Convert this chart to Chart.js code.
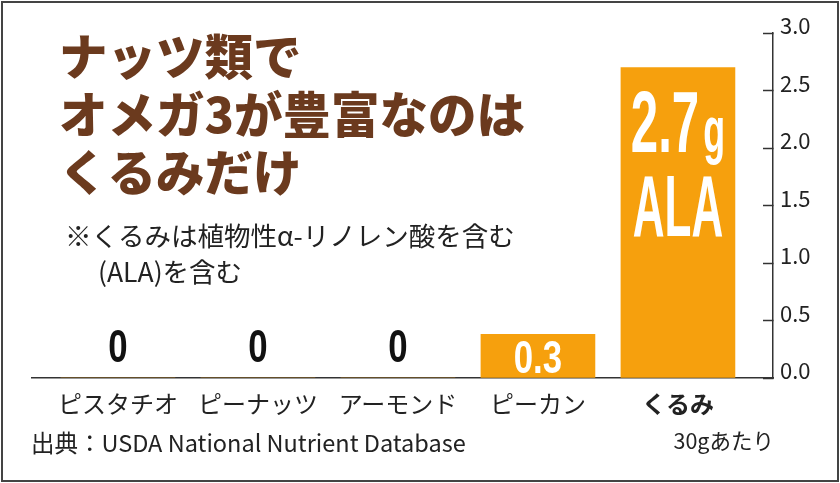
<!DOCTYPE html>
<html><head><meta charset="utf-8">
<script src="https://cdn.jsdelivr.net/npm/chart.js@4"></script>
<style>html,body{margin:0;padding:0;background:#fff}#wrap{width:840px;height:483px;position:relative}</style>
</head><body><div id="wrap"><canvas id="c"></canvas></div>
<script>
// ---- data ----
const categories = ['ピスタチオ', 'ピーナッツ', 'アーモンド', 'ピーカン', 'くるみ'];
const alaValues = [0, 0, 0, 0.38, 2.7];
const valueLabels = [['0'], ['0'], ['0'], ['0.3'], ['2.7g', 'ALA']];
const yTickValues = [0, 0.5, 1.0, 1.5, 2.0, 2.5, 3.0];
const highlightCategory = 'くるみ';
const titleLines = ['ナッツ類で', 'オメガ3が豊富なのは', 'くるみだけ'];
const noteLines = ['※くるみは植物性α-リノレン酸を含む', '(ALA)を含む'];
const sourceText = '出典：USDA National Nutrient Database';
const unitText = '30gあたり';

// ---- styles ----
const JP = '"Noto Sans CJK JP", "Noto Sans", sans-serif';
const NUM = '"Liberation Sans", Arial, sans-serif';
const ORANGE = '#F6A00D';
const BROWN = '#6B3A1E';
const INK = '#222222';

function condText(ctx, text, x, y, size, sx, color, align) {
  ctx.save();
  ctx.translate(x, y);
  ctx.scale(sx, 1);
  ctx.font = 'bold ' + size + 'px ' + NUM;
  ctx.fillStyle = color;
  ctx.textAlign = align || 'center';
  ctx.textBaseline = 'alphabetic';
  ctx.fillText(text, 0, 0);
  ctx.restore();
}
function measure(ctx, text, size) {
  ctx.save(); ctx.font = 'bold ' + size + 'px ' + NUM;
  const w = ctx.measureText(text).width; ctx.restore(); return w;
}

const decorPlugin = {
  id: 'decor',
  afterDraw(chart) {
    const ctx = chart.ctx;
    ctx.save();
    // frame
    ctx.strokeStyle = '#444';
    ctx.lineWidth = 2;
    ctx.strokeRect(2, 2, 836, 479);
    // title
    ctx.fillStyle = BROWN;
    ctx.font = '900 48.5px ' + JP;
    ctx.textAlign = 'left';
    ctx.textBaseline = 'middle';
    titleLines.forEach((t, i) => ctx.fillText(t, 59, 57 + i * 58));
    // note
    ctx.fillStyle = INK;
    ctx.font = '26.5px ' + JP;
    ctx.fillText(noteLines[0], 65, 236);
    ctx.fillText(noteLines[1], 98, 272);
    // source + unit
    ctx.font = '23.5px ' + JP;
    ctx.fillText(sourceText, 31, 443);
    ctx.font = '21.5px ' + JP;
    ctx.textAlign = 'right';
    ctx.fillText(unitText, 774, 441);
    ctx.restore();
  },
  afterDatasetsDraw(chart) {
    const ctx = chart.ctx;
    const meta = chart.getDatasetMeta(0);
    meta.data.forEach((bar, i) => {
      const lines = valueLabels[i];
      const v = alaValues[i];
      const base = bar.base;
      if (v === 0) {
        condText(ctx, lines[0], bar.x, base - 16, 47, 0.74, '#111');
      } else if (lines.length === 1) {
        const mid = (bar.y + base) / 2;
        condText(ctx, lines[0], bar.x, mid + 17, 47, 0.74, '#fff');
      } else {
        const big = 88, small = 64, sx = 0.56;
        const m = lines[0].match(/^([\d.]+)(\D*)$/);
        const num = m ? m[1] : lines[0], unit = m ? m[2] : '';
        const wNum = measure(ctx, num, big) * sx;
        const wUnit = unit ? measure(ctx, unit, small) * sx : 0;
        const gap = unit ? 4 : 0;
        const total = wNum + gap + wUnit;
        const left = bar.x - total / 2;
        const y1 = bar.y + 84;
        condText(ctx, num, left, y1, big, sx, '#fff', 'left');
        if (unit) condText(ctx, unit, left + wNum + gap, y1, small, sx, '#fff', 'left');
        condText(ctx, lines[1], bar.x, bar.y + 168, big, 0.5, '#fff');
      }
    });
  }
};

new Chart(document.getElementById('c'), {
  type: 'bar',
  data: {
    datasets: [{
      data: alaValues.map((v, i) => ({ x: i, y: v })),
      backgroundColor: ORANGE,
      borderWidth: 0,
      barThickness: 114
    }]
  },
  options: {
    responsive: true,
    maintainAspectRatio: false,
    animation: false,
    layout: { padding: { top: 33, left: 32, right: 0, bottom: 0 } },
    plugins: { legend: { display: false }, tooltip: { enabled: false } },
    scales: {
      x: {
        type: 'linear',
        position: 'bottom',
        offset: false,
        min: -0.614,
        max: 4.679,
        grid: { display: false },
        border: { display: true, color: '#333', width: 1.5 },
        afterFit(s) { s.height = 105; },
        ticks: {
          stepSize: 1,
          includeBounds: false,
          autoSkip: false,
          maxRotation: 0,
          padding: 3,
          color: INK,
          font: (c) => ({ family: JP, size: 24, weight: (c.tick && categories[c.tick.value] === highlightCategory) ? 'bold' : 'normal' }),
          callback: (v) => Number.isInteger(v) && categories[v] !== undefined ? categories[v] : ''
        }
      },
      y: {
        type: 'linear',
        position: 'right',
        min: 0,
        max: 3,
        afterFit(s) { s.width = 67; },
        afterBuildTicks(s) { s.ticks = yTickValues.map(v => ({ value: v })); },
        border: { display: true, color: '#333', width: 1.5 },
        grid: { display: true, drawOnChartArea: false, drawTicks: true, tickLength: -10, tickColor: '#333', tickWidth: 1.5 },
        ticks: {
          padding: 17,
          labelOffset: -7,
          color: INK,
          font: { family: JP, size: 22 },
          callback: (v) => Number(v).toFixed(1)
        }
      }
    }
  },
  plugins: [decorPlugin]
});
</script>
</body></html>
